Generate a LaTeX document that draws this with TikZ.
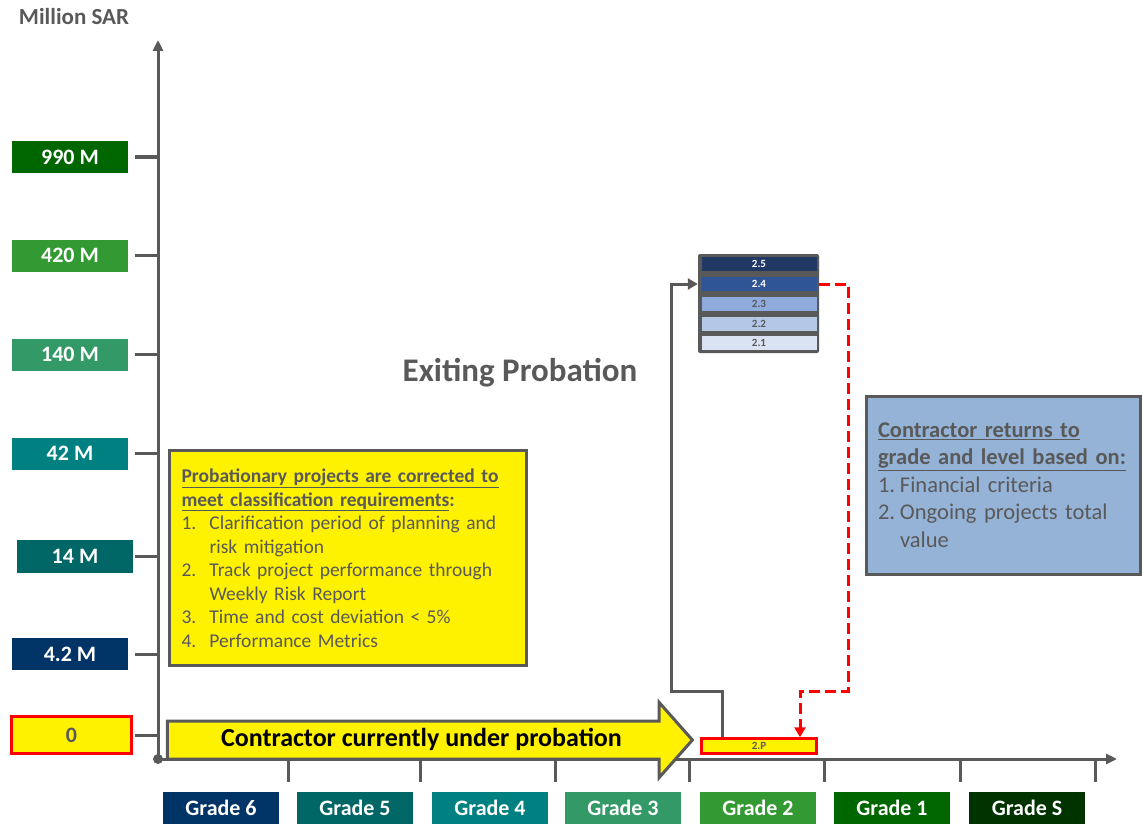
\documentclass[tikz,border=0pt]{standalone}
\usepackage{fontspec}
\setmainfont{Carlito}
\usepackage{xcolor}
\usepackage{tikz}
\usetikzlibrary{shapes.geometric, shapes.arrows, arrows.meta, positioning, calc}
\definecolor{axisgray}{RGB}{89,89,89}
\definecolor{txtgray}{RGB}{89,89,89}
\definecolor{gnavy}{RGB}{0,51,102}
\definecolor{gdteal}{RGB}{0,102,102}
\definecolor{gteal}{RGB}{0,128,128}
\definecolor{gsea}{RGB}{51,153,102}
\definecolor{gmid}{RGB}{51,153,51}
\definecolor{gdark}{RGB}{0,102,0}
\definecolor{gdeep}{RGB}{0,51,0}
\definecolor{lvlfive}{RGB}{31,56,100}
\definecolor{lvlfour}{RGB}{47,85,151}
\definecolor{lvlthree}{RGB}{143,170,220}
\definecolor{lvltwo}{RGB}{180,199,231}
\definecolor{lvlone}{RGB}{218,227,243}
\definecolor{noteblue}{RGB}{149,179,215}
\newcommand{\fs}[2]{\fontsize{#1}{#2}\selectfont}
\newcommand{\numitem}[2]{\makebox[#1][l]{#2.}}
\tikzstyle{value} = [rectangle, minimum width=116pt, minimum height=32pt, inner sep=0pt, text=white, font=\bfseries\fs{22}{26}]
\tikzstyle{grade} = [value, minimum height=32pt]
\tikzstyle{level} = [rectangle, minimum width=115pt, minimum height=14pt, inner sep=0pt, font=\bfseries\fs{11}{12}]
\tikzstyle{notebox} = [rectangle, draw=axisgray, line width=3pt, text=txtgray, align=left]
\tikzstyle{bigarrow} = [single arrow, draw=axisgray, line width=3pt, fill=yellow, minimum height=525pt, single arrow head extend=18.5pt, single arrow tip angle=97, text height=18pt, text depth=5pt, inner ysep=6pt, font=\bfseries\fs{26}{30}]
\tikzstyle{axis} = [line width=3pt, draw=axisgray, -{Triangle[length=11pt,width=10pt]}]
\tikzstyle{tick} = [line width=3pt, draw=axisgray]
\tikzstyle{link} = [line width=3pt, draw=axisgray, -{Triangle[length=10pt,width=11pt]}]
\tikzstyle{back} = [line width=3pt, draw=red, dash pattern=on 11pt off 5pt, -{Triangle[length=10pt,width=11pt]}]

\begin{document}
\begin{tikzpicture}[x=1pt, y=-1pt]
    \useasboundingbox (0,0) rectangle (1143,824);
    % axes
    \coordinate (origin) at (158,759);
    \coordinate (ytop) at (158,40);
    \coordinate (xend) at (1117,759);
    \draw[axis] (origin) -- (ytop);
    \draw[axis] (origin) -- (xend);
    \fill[axisgray] (origin) circle (5pt);
    \node (unit) [text=txtgray, font=\bfseries\fs{23}{26}] at (74,17) {Million SAR};

    % values
    \node (v990) [value, fill=gdark] at (70,157) {990 M};
    \node (v420) [value, fill=gmid] at (70,255.5) {420 M};
    \node (v140) [value, fill=gsea] at (70,354.5) {140 M};
    \node (v42) [value, fill=gteal] at (70,453.5) {42 M};
    \node (v14) [value, fill=gdteal, minimum height=33pt] at (75,556.5) {14 M};
    \node (v4) [value, fill=gnavy] at (70,654) {4.2 M};
    \node (vzero) [value, fill=yellow, draw=red, line width=3pt, minimum width=120pt, minimum height=37pt, text=txtgray] at (71.5,735) {0};
    \draw[tick] ($(origin |- v990)+(-23,0)$) -- (origin |- v990);
    \draw[tick] ($(origin |- v420)+(-23,0)$) -- (origin |- v420);
    \draw[tick] ($(origin |- v140)+(-23,0)$) -- (origin |- v140);
    \draw[tick] ($(origin |- v42)+(-23,0)$) -- (origin |- v42);
    \draw[tick] ($(origin |- v14)+(-23,0)$) -- (origin |- v14);
    \draw[tick] ($(origin |- v4)+(-23,0)$) -- (origin |- v4);
    \draw[tick] ($(origin |- vzero)+(-23,0)$) -- (origin |- vzero);

    % grades
    \node (g6) [grade, fill=gnavy] at (221,808) {Grade 6};
    \node (g5) [grade, fill=gdteal] at (355,808) {Grade 5};
    \node (g4) [grade, fill=gteal] at (490,808) {Grade 4};
    \node (g3) [grade, fill=gsea] at (623,808) {Grade 3};
    \node (g2) [grade, fill=gmid] at (758,808) {Grade 2};
    \node (g1) [grade, fill=gdark] at (892,808) {Grade 1};
    \node (gs) [grade, fill=gdeep] at (1027,808) {Grade S};
    \draw[tick] (288,759) -- (288,782);
    \draw[tick] (420,759) -- (420,782);
    \draw[tick] (555,759) -- (555,782);
    \draw[tick] (689,759) -- (689,782);
    \draw[tick] (824,759) -- (824,782);
    \draw[tick] (960,759) -- (960,782);
    \draw[tick] (1095,759) -- (1095,782);

    % probation
    \node (probarrow) [bigarrow] at (421.5,740) {Contractor currently under probation};
    \node (probbox) [notebox, fill=yellow, minimum width=357pt, minimum height=215pt, text width=333pt, inner xsep=12pt, font=\fs{19.5}{23.5}] at (348,558) {%
        \underline{\textbf{Probationary projects are corrected to}}\\
        \underline{\textbf{meet classification requirements}}\textbf{:}\\
        \numitem{28pt}{1}Clarification period of planning and\\
        \hspace*{28pt}risk mitigation\\
        \numitem{28pt}{2}Track project performance through\\
        \hspace*{28pt}Weekly Risk Report\\
        \numitem{28pt}{3}Time and cost deviation < 5\%\\
        \numitem{28pt}{4}Performance Metrics};
    \node (exiting) [text=txtgray, font=\bfseries\fs{33}{38}] at (520,373) {Exiting Probation};

    % levels
    \node (stack) [rectangle, rounded corners=2pt, fill=axisgray, minimum width=121pt, minimum height=99pt] at (758.5,303.5) {};
    \node (l25) [level, fill=lvlfive, text=white] at (759,264) {2.5};
    \node (l24) [level, fill=lvlfour, text=white] at (759,284) {2.4};
    \node (l23) [level, fill=lvlthree, text=txtgray] at (759,304) {2.3};
    \node (l22) [level, fill=lvltwo, text=txtgray] at (759,323.5) {2.2};
    \node (l21) [level, fill=lvlone, text=txtgray] at (759,343) {2.1};
    \node (l2p) [level, fill=yellow, draw=red, line width=2.5pt, minimum height=15pt, text=txtgray] at (759,746) {2.P};

    \node (returnbox) [notebox, fill=noteblue, minimum width=274pt, minimum height=178pt, text width=250pt, inner xsep=12pt, font=\fs{22.5}{27.5}] at (1003,485) {%
        \underline{\textbf{Contractor returns to}}\\
        \underline{\textbf{grade and level based on:}}\\
        \numitem{22pt}{1}Financial criteria\\
        \numitem{22pt}{2}Ongoing projects total\\
        \hspace*{22pt}value};

    \coordinate (gbend) at (671,691);
    \coordinate (rbend) at (848,691);
    \draw[link] ([xshift=-37pt]l2p.north) |- (gbend) |- (stack.west |- l24);
    \draw[back] (stack.east |- l24) -| (rbend) -| ([xshift=41pt]l2p.north);
\end{tikzpicture}
\end{document}
